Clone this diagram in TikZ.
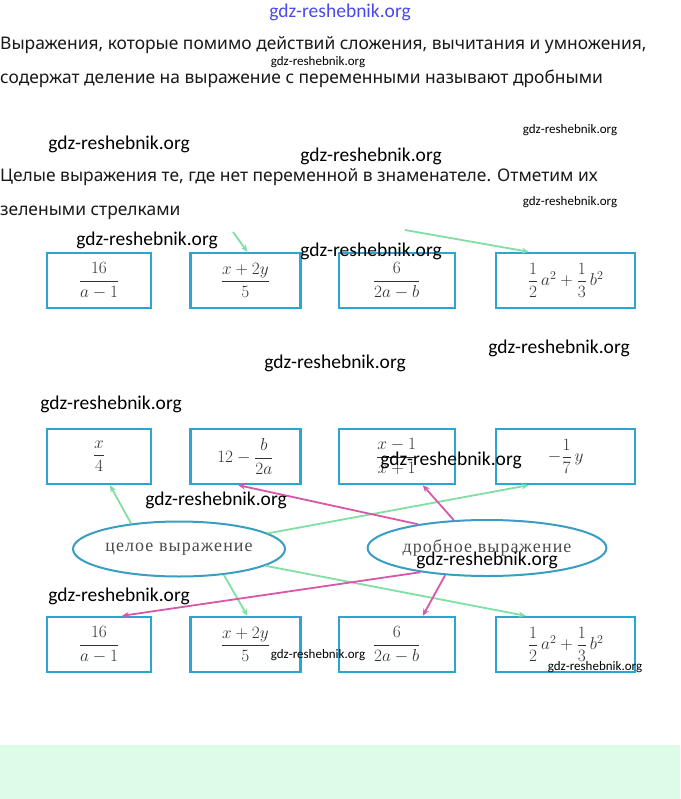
\documentclass[tikz,border=0pt]{standalone}
\usepackage{amsmath}
\usepackage{fontspec}
\setmainfont{Noto Sans}
\newfontfamily\wmfont{Carlito}
\newfontfamily\bookfont[LetterSpace=6]{Liberation Serif}
\usetikzlibrary{shapes.geometric,arrows.meta,positioning,calc}
\definecolor{boxblue}{HTML}{2AA6D2}
\definecolor{ellblue}{HTML}{3A9EC2}
\definecolor{arrgreen}{HTML}{80DFA2}
\definecolor{arrpink}{HTML}{D957A8}
\definecolor{mint}{HTML}{DCFCE8}
\definecolor{wmblue}{HTML}{4A4AE8}

\begin{document}
\begin{tikzpicture}[x=1pt, y=-1pt]
    \tikzstyle{expr} = [rectangle, draw=boxblue, line width=2.4pt, minimum height=55pt, inner sep=0pt, font=\fontsize{18.5}{22}\selectfont, text=black!80]
    \tikzstyle{kind} = [ellipse, draw=ellblue, line width=2pt, inner sep=0pt, font=\bookfont\fontsize{18}{21}\selectfont, text=black!70]
    \tikzstyle{para} = [anchor=west, inner sep=0pt, font=\fontsize{17.4}{20}\selectfont, text=black!90]
    \tikzstyle{wm} = [inner sep=0pt, font=\wmfont\fontsize{19.5}{22}\selectfont]
    \tikzstyle{wmsmall} = [inner sep=0pt, font=\wmfont\fontsize{13}{15}\selectfont]
    \tikzstyle{greenarr} = [line width=1.8pt, draw=arrgreen, -{Stealth[length=7pt, width=6pt]}]
    \tikzstyle{pinkarr} = [line width=1.8pt, draw=arrpink, -{Stealth[length=7pt, width=6pt]}]

    \useasboundingbox [fill=white] (0,0) rectangle (680,799);
    \fill [mint] (0,745) rectangle (680,799);

    \node [para] (p1) at (0,45) {Выражения, которые помимо действий сложения, вычитания и умножения,};
    \node [para] (p2) at (0,79) {содержат деление на выражение с переменными называют дробными};
    \node [para] (p3) at (0,177) {Целые выражения те, где нет переменной в знаменателе. Отметим их};
    \node [para] (p4) at (0,213) {зелеными стрелками};

    % first row
    \node [expr, minimum width=104pt] (t1) at (99,280.5) {$\dfrac{16}{a-1}$};
    \node [expr, minimum width=110pt, right=37pt of t1] (t2) {$\dfrac{x+2y}{5}$};
    \node [expr, minimum width=116pt, right=36pt of t2] (t3) {$\dfrac{6}{2a-b}$};
    \node [expr, minimum width=139pt, right=39pt of t3] (t4) {$\dfrac{1}{2}\,a^2+\dfrac{1}{3}\,b^2$};

    % second row
    \node [expr, minimum width=104pt] (u1) at (99,456.5) {$\dfrac{x}{4}$};
    \node [expr, minimum width=110pt, right=37pt of u1] (u2) {$12-\dfrac{b}{2a}$};
    \node [expr, minimum width=116pt, right=36pt of u2] (u3) {$\dfrac{x-1}{x+1}$};
    \node [expr, minimum width=139pt, right=39pt of u3] (u4) {$-\dfrac{1}{7}\,y$};

    % ellipses
    \node [kind, minimum width=212pt, minimum height=55pt] (whole) at (179,549) {целое выражение};
    \node [kind, minimum width=222pt, minimum height=56pt] (frac) at (487,548) {дробное выражение};

    % third row
    \node [expr, minimum width=104pt] (d1) at (99,644.5) {$\dfrac{16}{a-1}$};
    \node [expr, minimum width=110pt, right=37pt of d1] (d2) {$\dfrac{x+2y}{5}$};
    \node [expr, minimum width=116pt, right=36pt of d2] (d3) {$\dfrac{6}{2a-b}$};
    \node [expr, minimum width=139pt, right=39pt of d3] (d4) {$\dfrac{1}{2}\,a^2+\dfrac{1}{3}\,b^2$};

    % arrows
    \coordinate (cut1) at (233,232);
    \coordinate (cut2) at (405,230);
    \draw [greenarr] (cut1) -- ($(t2.north)+(2,0)$);
    \draw [greenarr] (cut2) -- ($(t4.north)+(-37,0)$);

    \draw [greenarr] (whole.152) -- ($(u1.south)+(11,0)$);
    \draw [greenarr] (whole.10) -- ($(u4.south)+(-37,0)$);
    \draw [greenarr] (whole.-30) -- ($(d2.north)+(2,0)$);
    \draw [greenarr] (whole.-11) -- ($(d4.north)+(-40,0)$);

    \draw [pinkarr] (frac.161) -- ($(u2.south)+(-7,0)$);
    \draw [pinkarr] (frac.140) -- ($(u3.south)+(26,0)$);
    \draw [pinkarr] (frac.-160) -- ($(d1.north)+(23,0)$);
    \draw [pinkarr] (frac.-147) -- ($(d3.north)+(26,0)$);

    % watermarks
    \node [wm, text=wmblue] (w0) at (340,12) {gdz-reshebnik.org};
    \node [wmsmall] (w1) at (318,62) {gdz-reshebnik.org};
    \node [wmsmall] (w2) at (570,130) {gdz-reshebnik.org};
    \node [wm] (w3) at (119,144) {gdz-reshebnik.org};
    \node [wm] (w4) at (371,156) {gdz-reshebnik.org};
    \node [wmsmall] (w5) at (570,202) {gdz-reshebnik.org};
    \node [wm] (w6) at (147,240) {gdz-reshebnik.org};
    \node [wm] (w7) at (371,251) {gdz-reshebnik.org};
    \node [wm] (w8) at (559,348) {gdz-reshebnik.org};
    \node [wm] (w9) at (335,363) {gdz-reshebnik.org};
    \node [wm] (w10) at (111,404) {gdz-reshebnik.org};
    \node [wm] (w11) at (451,460) {gdz-reshebnik.org};
    \node [wm] (w12) at (216,500) {gdz-reshebnik.org};
    \node [wm] (w13) at (487,560) {gdz-reshebnik.org};
    \node [wm] (w14) at (119,596) {gdz-reshebnik.org};
    \node [wmsmall] (w15) at (318,655) {gdz-reshebnik.org};
    \node [wmsmall] (w16) at (595,667) {gdz-reshebnik.org};
\end{tikzpicture}
\end{document}
